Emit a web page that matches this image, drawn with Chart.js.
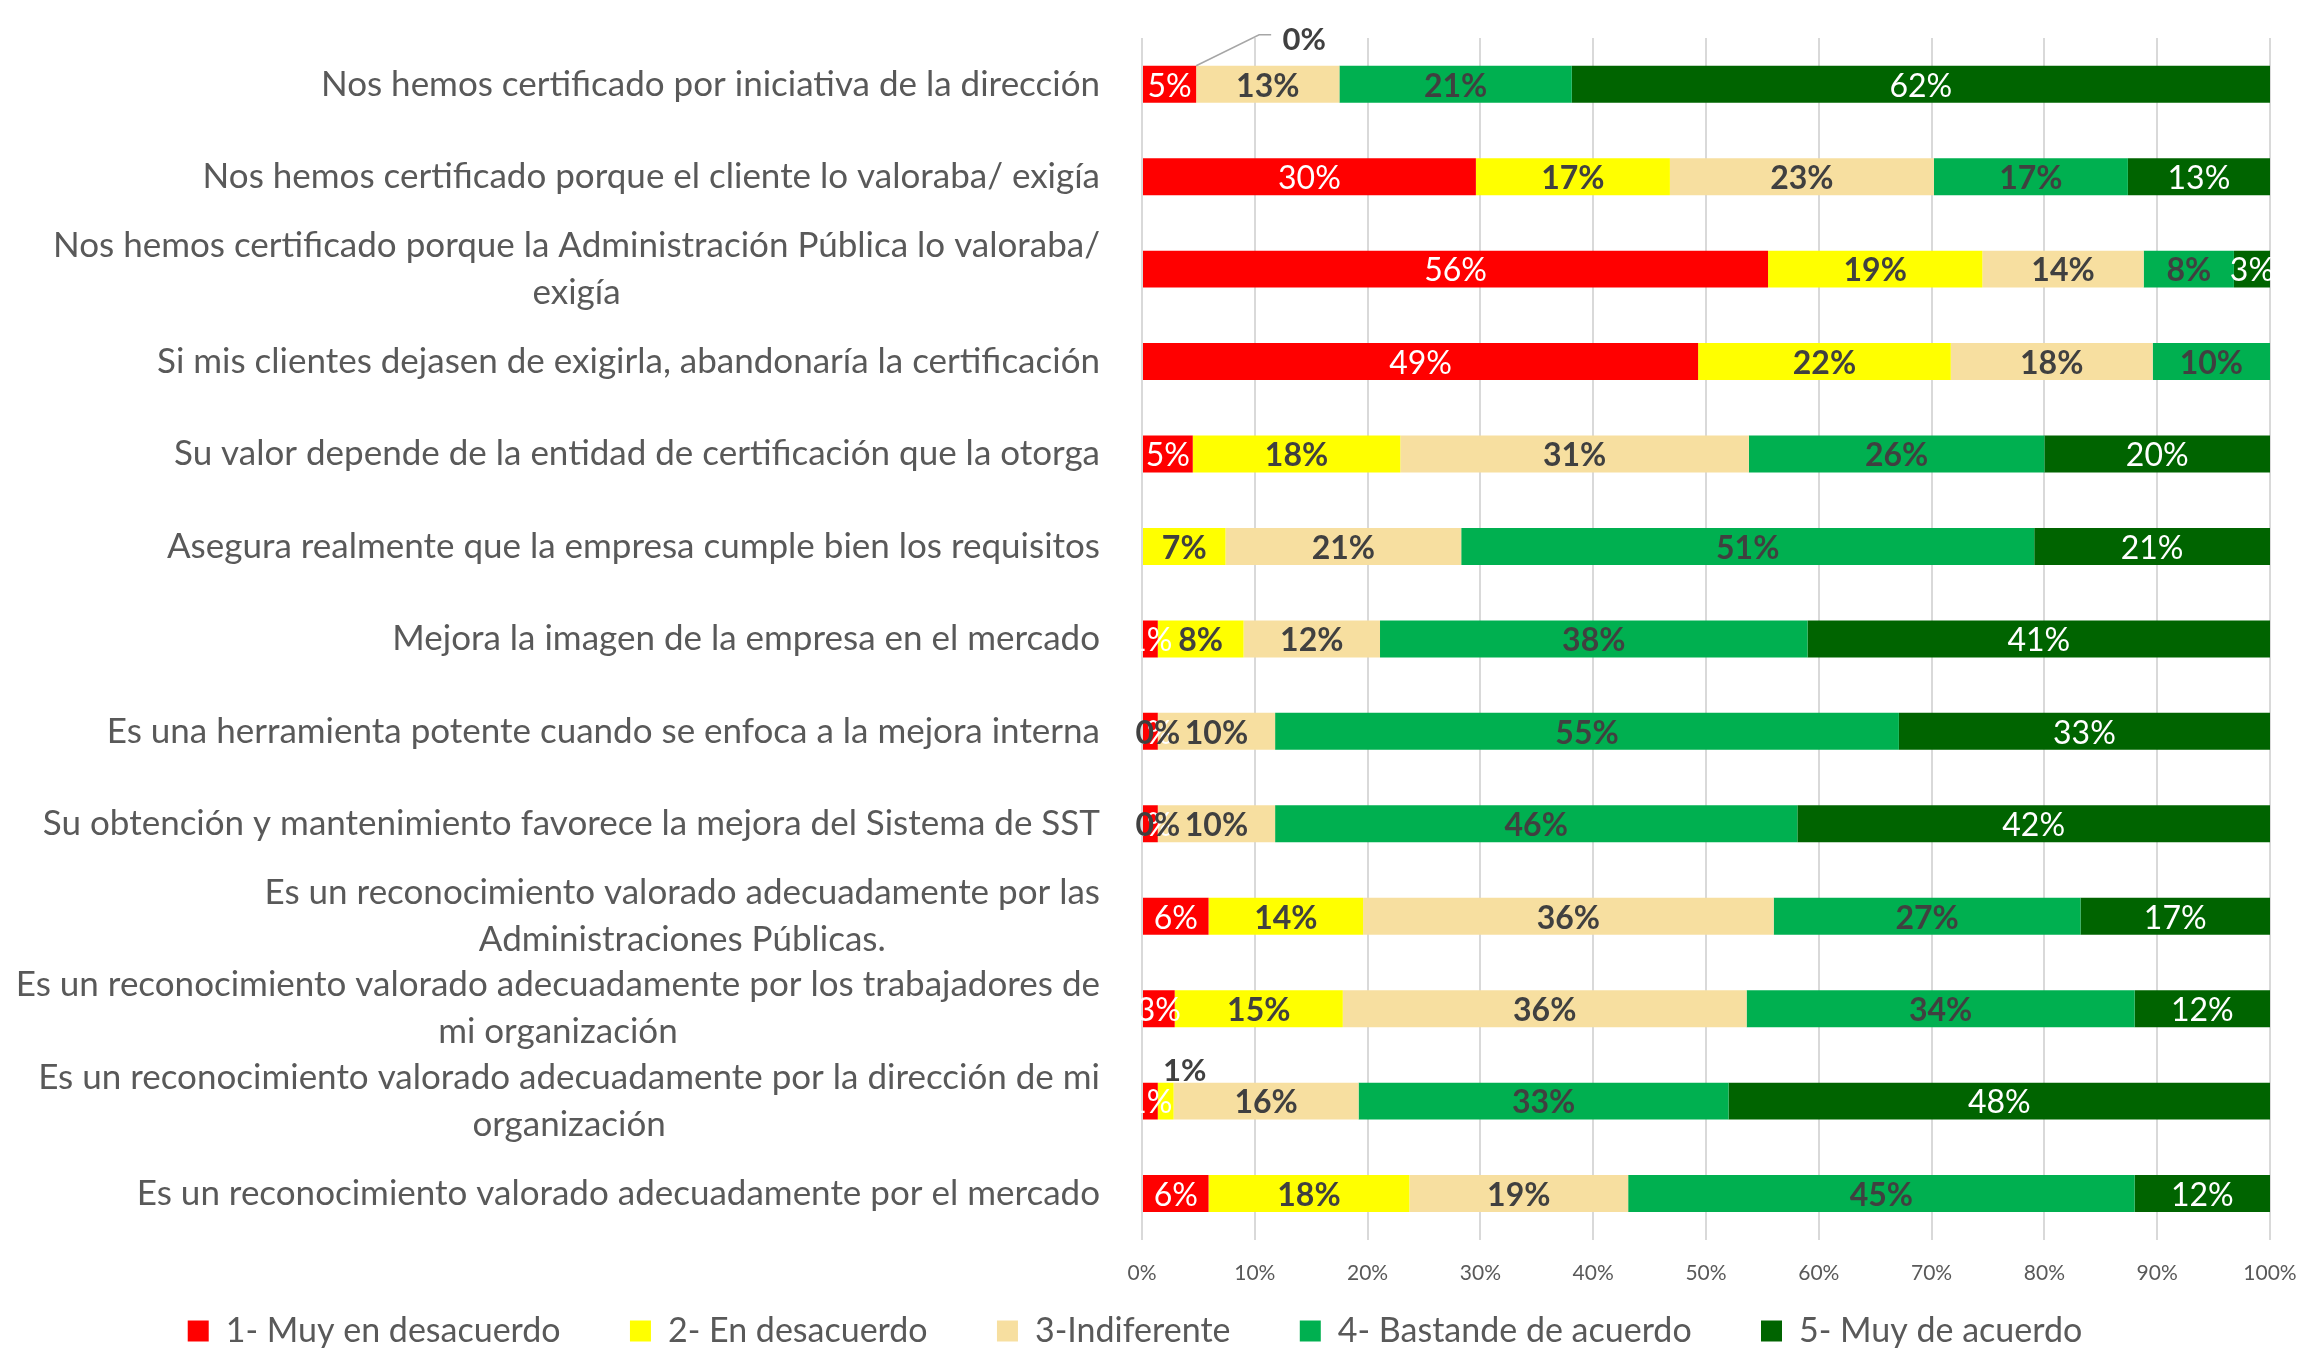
<!DOCTYPE html>
<html>
<head>
<meta charset="utf-8">
<script src="https://cdn.jsdelivr.net/npm/chart.js@4"></script>
<style>
    body { margin: 0; background: #ffffff; }
    #graph_sst { display: block; }
</style>
</head>
<body>
<canvas id="graph_sst" width="2302" height="1350"></canvas>
<script>
// ############################## GRÁFICA CERTIFICACIÓN SST ############################### //
const categorias = [
    'Nos hemos certificado por iniciativa de la dirección',
    'Nos hemos certificado porque el cliente lo valoraba/ exigía',
    ['Nos hemos certificado porque la Administración Pública lo valoraba/', 'exigía'],
    'Si mis clientes dejasen de exigirla, abandonaría la certificación',
    'Su valor depende de la entidad de certificación que la otorga',
    'Asegura realmente que la empresa cumple bien los requisitos',
    'Mejora la imagen de la empresa en el mercado',
    'Es una herramienta potente cuando se enfoca a la mejora interna',
    'Su obtención y mantenimiento favorece la mejora del Sistema de SST',
    ['Es un reconocimiento valorado adecuadamente por las', 'Administraciones Públicas.'],
    ['Es un reconocimiento valorado adecuadamente por los trabajadores de', 'mi organización'],
    ['Es un reconocimiento valorado adecuadamente por la dirección de mi', 'organización'],
    'Es un reconocimiento valorado adecuadamente por el mercado'
];

const series = [
    '1- Muy en desacuerdo',
    '2- En desacuerdo',
    '3-Indiferente',
    '4- Bastande de acuerdo',
    '5- Muy de acuerdo'
];

// % por categoria (null = sin etiqueta)
const muyDesacuerdo = [4.8, 29.6, 55.5, 49.3, 4.5, null, 1.4, 1.4, 1.4, 5.9, 2.9, 1.4, 5.9];
const desacuerdo    = [0, 17.2, 19.0, 22.4, 18.4, 7.4, 7.6, 0, 0, 13.7, 14.9, 1.4, 17.8];
const indiferente   = [12.7, 23.4, 14.3, 17.9, 30.9, 20.9, 12.1, 10.4, 10.4, 36.4, 35.8, 16.4, 19.4];
const bastante      = [20.6, 17.2, 8.0, 10.4, 26.2, 50.8, 37.9, 55.3, 46.3, 27.2, 34.4, 32.8, 44.9];
const muyAcuerdo    = [61.9, 12.6, 3.2, null, 20.0, 20.9, 41.0, 32.9, 41.9, 16.8, 12.0, 48.0, 12.0];

const ticksX = [0, 10, 20, 30, 40, 50, 60, 70, 80, 90, 100];

const colores = ['#FF0000', '#FFFF00', '#F7DFA0', '#00B050', '#006400'];
const coloresTexto = ['#FFFFFF', '#404040', '#404040', '#404040', '#FFFFFF'];
const negrita = [false, true, true, true, false];

// etiquetas que Excel sacó fuera de la barra: [fila, serie]
const fueraDeBarra = [[0, 1], [11, 1]];

const FUENTE = 'Lato, "Open Sans", sans-serif';

// etiquetas de categoría: una línea alineada a la derecha, dos líneas centradas entre sí
const etiquetasCategoria = {
    id: 'etiquetasCategoria',
    afterDraw(chart) {
        const ctx = chart.ctx;
        const y = chart.scales.y;
        const derecha = 1100;
        const alto = 47;
        ctx.save();
        ctx.font = '35px ' + FUENTE;
        ctx.fillStyle = '#595959';
        ctx.textAlign = 'center';
        ctx.textBaseline = 'middle';
        categorias.forEach(function(cat, i) {
            const lineas = Array.isArray(cat) ? cat : [cat];
            const ancho = Math.max.apply(null, lineas.map(l => ctx.measureText(l).width));
            const cx = derecha - ancho / 2;
            const cy = y.getPixelForValue(i);
            lineas.forEach(function(l, j) {
                ctx.fillText(l, cx, cy + (j - (lineas.length - 1) / 2) * alto);
            });
        });
        ctx.restore();
    }
};

// etiquetas de datos (sin plugin externo)
const etiquetasDatos = {
    id: 'etiquetasDatos',
    afterDatasetsDraw(chart) {
        const ctx = chart.ctx;
        ctx.save();
        ctx.textAlign = 'center';
        ctx.textBaseline = 'middle';
        chart.data.datasets.forEach(function(ds, d) {
            const meta = chart.getDatasetMeta(d);
            meta.data.forEach(function(bar, i) {
                const v = ds.data[i];
                if (v === null) return;
                const txt = Math.round(v) + '%';
                const fuera = fueraDeBarra.some(f => f[0] === i && f[1] === d);
                const cx = (bar.base + bar.x) / 2;
                if (fuera) {
                    const top = bar.y - bar.height / 2;
                    ctx.font = 'bold 31px ' + FUENTE;
                    ctx.fillStyle = '#404040';
                    if (v < 0.5) {
                        ctx.strokeStyle = '#A6A6A6';
                        ctx.lineWidth = 1.5;
                        ctx.beginPath();
                        ctx.moveTo(cx, top);
                        ctx.lineTo(cx + 63, top - 31);
                        ctx.lineTo(cx + 75, top - 31);
                        ctx.stroke();
                        ctx.fillText(txt, cx + 108, top - 26);
                    } else {
                        ctx.fillText(txt, cx + 19, top - 12);
                    }
                    return;
                }
                ctx.font = (negrita[d] ? 'bold ' : '') + '32px ' + FUENTE;
                ctx.fillStyle = coloresTexto[d];
                ctx.fillText(txt, cx, bar.y + 2);
            });
        });
        ctx.restore();
    }
};

const valores = [muyDesacuerdo, desacuerdo, indiferente, bastante, muyAcuerdo];

const data_graph_sst = {
    labels: categorias,
    datasets: series.map(function(nombre, k) {
        return {
            label: nombre,
            data: valores[k],
            backgroundColor: colores[k],
            borderWidth: 0,
            barPercentage: 0.4,
            categoryPercentage: 1
        };
    })
};

const config = {
    type: 'bar',
    data: data_graph_sst,
    plugins: [etiquetasCategoria, etiquetasDatos],
    options: {
        indexAxis: 'y',
        responsive: false,
        animation: false,
        layout: {
            padding: { top: 38, right: 32, left: 0, bottom: -8 }
        },
        scales: {
            x: {
                stacked: true,
                min: 0,
                max: 100,
                afterBuildTicks: function(scale) {
                    scale.ticks = ticksX.map(v => ({ value: v }));
                },
                afterFit: function(scale) {
                    scale.paddingRight = 0;
                },
                grid: {
                    color: '#D9D9D9',
                    lineWidth: 2,
                    drawTicks: false
                },
                border: { display: false },
                ticks: {
                    padding: 21,
                    color: '#595959',
                    font: { family: FUENTE, size: 21 },
                    callback: function(value) {
                        return value + '%';
                    }
                }
            },
            y: {
                stacked: true,
                grid: { display: false },
                border: { display: false },
                ticks: { display: false },
                afterFit: function(scale) {
                    scale.width = 1142;
                }
            }
        },
        plugins: {
            legend: {
                position: 'bottom',
                labels: {
                    boxWidth: 21,
                    boxHeight: 21,
                    padding: 7,
                    color: '#595959',
                    font: { family: FUENTE, size: 34 },
                    generateLabels: function(chart) {
                        const items = Chart.defaults.plugins.legend.labels.generateLabels(chart);
                        items.forEach(function(it, k) {
                            if (k < items.length - 1) it.text = it.text + '\u2003\u2003\u2004';
                        });
                        return items;
                    }
                }
            },
            tooltip: { enabled: false }
        }
    }
};

const sst_chart = new Chart(
    document.getElementById('graph_sst'),
    config
);
// ###################################################################################### //
</script>
</body>
</html>
